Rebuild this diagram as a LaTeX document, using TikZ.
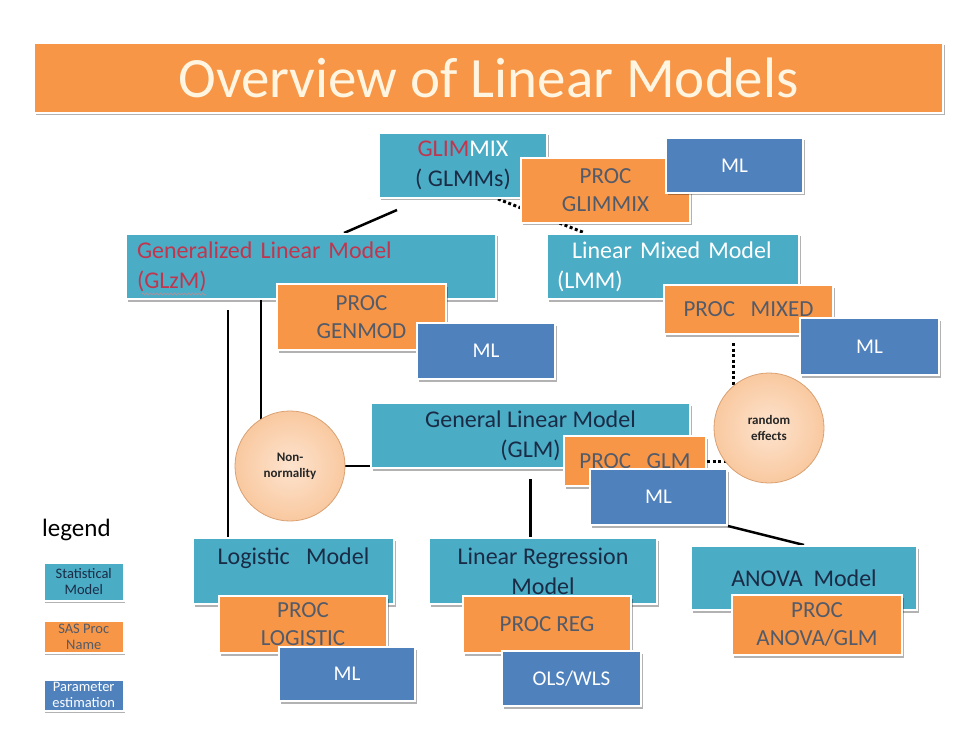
\documentclass[tikz,border=0pt]{standalone}
\usepackage{fontspec}
\setmainfont{Carlito}
\usetikzlibrary{shadows,backgrounds,decorations.pathmorphing}

\definecolor{modelteal}{HTML}{4BACC6}
\definecolor{procorange}{HTML}{F79646}
\definecolor{estblue}{HTML}{4F81BD}
\definecolor{modelnavy}{HTML}{1A2B45}
\definecolor{procgray}{HTML}{535B6A}
\definecolor{glimred}{HTML}{C0364E}
\definecolor{titlecream}{HTML}{FFF5E1}
\definecolor{effectin}{HTML}{FDE3CE}
\definecolor{effectout}{HTML}{F9C9A0}
\definecolor{effectedge}{HTML}{D9A071}

\tikzset{
  boxbase/.style={draw=white, line width=2pt, inner sep=6pt, anchor=north west,
    drop shadow={shadow xshift=1.5pt, shadow yshift=-2.5pt, fill=black, opacity=0.3}},
  modelbox/.style={boxbase, fill=modelteal, text=modelnavy, font=\fontsize{24}{30}\selectfont},
  procbox/.style={boxbase, fill=procorange, text=procgray, align=center, font=\fontsize{23}{28}\selectfont},
  estbox/.style={boxbase, fill=estblue, text=white, align=center, font=\fontsize{21}{26}\selectfont},
  keybox/.style={boxbase, line width=1.5pt, inner sep=1pt, align=center, minimum width=80pt,
    font=\fontsize{14.5}{16}\selectfont},
  effectcircle/.style={circle, draw=effectedge, line width=0.8pt, inner color=effectin,
    outer color=effectout, minimum size=110pt, align=center, text=black!85,
    font=\bfseries\fontsize{13}{16}\selectfont},
  link/.style={line width=2.5pt},
  dotlink/.style={line width=3pt, dash pattern=on 3pt off 2.5pt},
  squiggle/.style={draw=glimred!45!gray!70, line width=0.6pt, decorate,
    decoration={snake, amplitude=1pt, segment length=3.5pt}}
}

\begin{document}
\begin{tikzpicture}[x=1pt, y=-1pt]
	\useasboundingbox (0,0) rectangle (979,735);
	
	% title
	\node[boxbase, fill=procorange, text=titlecream, inner ysep=1pt, minimum width=909pt,
	  minimum height=70pt, font=\fontsize{57}{60}\selectfont] (title) at (33,42) {Overview of Linear Models};
	
	% GLIMMIX
	\node[modelbox, minimum width=168pt, minimum height=65pt, align=center] (glimmix) at (378,132)
	  {\textcolor{glimred}{GLIM}\textcolor{white}{MIX}\\( GLMMs)};
	\node[procbox, minimum width=169pt, minimum height=65pt] (procglimmix) at (520,157) {PROC\\GLIMMIX};
	\node[estbox, minimum width=137pt, minimum height=55pt] (mlglimmix) at (665,137) {ML};
	
	% generalized linear model
	\node[modelbox, text width=348pt, inner xsep=11pt, minimum height=65pt, align=left, text=glimred]
	  (glzm) at (125,233) {Generalized Linear Model\\(GLzM)};
	\draw[squiggle] ([shift={(17,-6)}]glzm.south west) -- ++(64,0);
	\node[procbox, minimum width=169pt, minimum height=66pt] (procgenmod) at (276,283) {PROC\\GENMOD};
	\node[estbox, minimum width=138pt, minimum height=56pt] (mlgenmod) at (416,322) {ML};
	
	% linear mixed model
	\node[modelbox, text width=232pt, inner xsep=10pt, minimum height=65pt, align=left, text=white]
	  (lmm) at (546,233) {\hspace*{15pt}Linear Mixed Model\\(LMM)};
	\node[procbox, minimum width=169pt, minimum height=49pt] (procmixed) at (663,284) {PROC\ \ \ MIXED};
	\node[estbox, minimum width=139pt, minimum height=57pt] (mlmixed) at (799,317) {ML};
	
	% general linear model
	\node[modelbox, minimum width=319pt, minimum height=65pt, align=center] (glm) at (370,402)
	  {General Linear Model\\(GLM)};
	\node[procbox, minimum width=142pt, minimum height=50pt] (procglm) at (563,435) {PROC\ \ \ GLM};
	\node[estbox, minimum width=137pt, minimum height=56pt] (mlglm) at (589,468) {ML};
	
	% circles
	\node[effectcircle] (nonnorm) at (290,466) {Non-\\normality};
	\node[effectcircle] (randeff) at (769,428) {random\\effects};
	
	% bottom row
	\node[modelbox, minimum width=201pt, minimum height=66pt, align=center] (logistic) at (192,537)
	  {Logistic\ \ \ Model\\\mbox{}};
	\node[procbox, minimum width=168pt, minimum height=57pt] (proclogistic) at (218,595) {PROC\\LOGISTIC};
	\node[estbox, minimum width=136pt, minimum height=54pt] (mllogistic) at (278,646) {ML};
	
	\node[modelbox, minimum width=228pt, minimum height=66pt, align=center] (linreg) at (428,537)
	  {Linear Regression\\Model};
	\node[procbox, minimum width=168pt, minimum height=57pt] (procreg) at (462,595) {PROC REG};
	\node[estbox, minimum width=139pt, minimum height=55pt] (olswls) at (501,650) {OLS/WLS};
	
	\node[modelbox, minimum width=226pt, minimum height=64pt, align=center] (anova) at (690,545)
	  {ANOVA\ \ Model};
	\node[procbox, minimum width=170pt, minimum height=60pt] (procanova) at (731,594) {PROC\\ANOVA/GLM};
	
	% legend
	\node[anchor=west, inner sep=0pt, font=\fontsize{25}{28}\selectfont] (legend) at (42,530) {legend};
	\node[keybox, fill=modelteal, text=modelnavy, minimum height=38pt] (keymodel) at (43,562) {Statistical\\Model};
	\node[keybox, fill=procorange, text=procgray, minimum height=32pt] (keyproc) at (43,620) {SAS Proc\\Name};
	\node[keybox, fill=estblue, text=white, minimum height=31pt] (keyest) at (43,679) {Parameter\\estimation};
	
	% connectors
	\coordinate (glzmleft) at ([shift={(103,10)}]glzm.south west);
	\coordinate (glzmmid) at ([xshift=136]glzm.south west);
	\coordinate (mixeddot) at ([shift={(-15,8)}]procmixed.south);
	\coordinate (glmdown) at ([shift={(0,10)}]glm.south);
	\begin{scope}[on background layer]
		\draw[link] ([shift={(19,11)}]glimmix.south west) -- ([xshift=219]glzm.north west);
		\draw[dotlink] ([xshift=35]glimmix.south) -- ([xshift=39]lmm.north west);
		\draw[link] (glzmmid) -- (glzmmid |- nonnorm.center);
		\draw[link] (glzmleft) -- (glzmleft |- logistic.north);
		\draw[link] (nonnorm.east) -- (nonnorm.east -| glm.west);
		\draw[link] (glmdown) -- (glmdown |- linreg.north);
		\draw[link] (mlglm.south east) -- (anova.north);
		\draw[dotlink] (mixeddot) -- (mixeddot |- randeff.center);
		\draw[dotlink] (procglm.east) -- (procglm.east -| randeff.center);
	\end{scope}
\end{tikzpicture}
\end{document}
